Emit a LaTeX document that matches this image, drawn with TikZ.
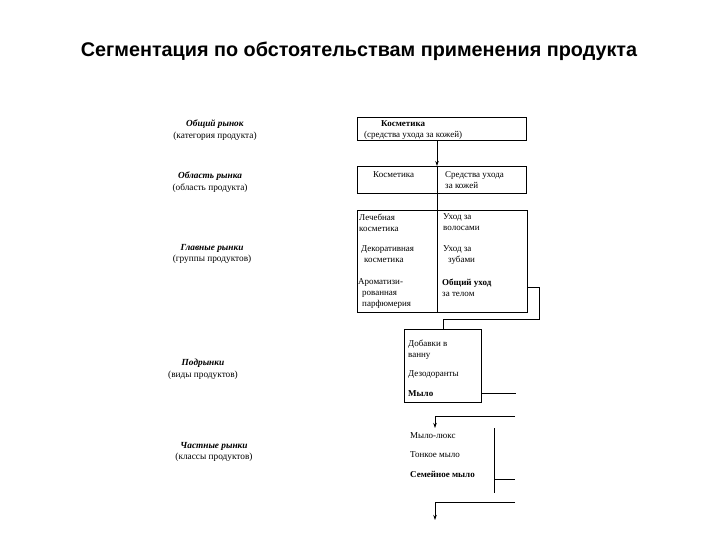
\documentclass[tikz,border=0pt]{standalone}
\usepackage{fontspec}
\setmainfont{Liberation Serif}
\newfontfamily\titlefont{Liberation Sans}
\usetikzlibrary{arrows.meta,positioning}

\begin{document}
\begin{tikzpicture}[x=1pt, y=-1pt,
    frame/.style={rectangle, draw, line width=0.8pt, anchor=north west, inner sep=0pt}, % рамки
    item/.style={anchor=north west, inner sep=0pt, align=left, font=\fontsize{9}{11}\selectfont}, % текст в рамках
    level/.style={anchor=north, inner sep=0pt, align=center, font=\fontsize{9.3}{11.5}\selectfont}, % уровни слева
    link/.style={line width=0.8pt},
    arrow/.style={line width=0.8pt, -{Stealth[length=5pt, width=3.5pt]}}
  ]
  \useasboundingbox (0,0) rectangle (720,540);

  % заголовок
  \node (title) at (359,51) {\titlefont\bfseries\fontsize{19.8}{22}\selectfont Сегментация по обстоятельствам применения продукта};

  % уровни рынка
  \node (lv1) [level] at (215,120) {\textbf{\textit{Общий рынок}}\\(категория продукта)};
  \node (lv2) [level] at (210,172) {\textbf{\textit{Область рынка}}\\(область продукта)};
  \node (lv3) [level] at (212,244) {\textbf{\textit{Главные рынки}}\\(группы продуктов)};
  \node (lv4) [level] at (203,359) {\textbf{\textit{Подрынки}}\\(виды продуктов)};
  \node (lv5) [level] at (214,442) {\textbf{\textit{Частные рынки}}\\(классы продуктов)};

  % рамки
  \node (b1) [frame, minimum width=169pt, minimum height=23pt] at (357,117) {};
  \node (b2) [frame, minimum width=169pt, minimum height=27pt] at (357,166) {};
  \node (b3) [frame, minimum width=170pt, minimum height=102pt] at (357,210) {};
  \node (b4) [frame, minimum width=77pt, minimum height=73pt] at (404,329) {};
  \coordinate (col) at (437,0);

  % текст в рамках
  \node (cosm) [item] at (364,120) {\hspace*{17pt}\textbf{Косметика}\\(средства ухода за кожей)};
  \node (cosm2) [item] at (373,171.5) {Косметика};
  \node (skin) [item] at (445,171.5) {Средства ухода\\за кожей};

  \node (med) [item] at (359,213.5) {Лечебная\\косметика};
  \node (deco) [item] at (361,245.5) {Декоративная\\\hspace*{3pt}косметика};
  \node (arom) [item] at (358,278.5) {Ароматизи-\\\hspace*{4pt}рованная\\\hspace*{4pt}парфюмерия};
  \node (hair) [item] at (443,213.5) {Уход за\\волосами};
  \node (teeth) [item] at (443,245.5) {Уход за\\\hspace*{5pt}зубами};
  \node (care) [item] at (442,278.5) {\textbf{Общий уход}\\за телом};

  \node (bath) [item] at (408,340) {Добавки в\\ванну};
  \node (deod) [item] at (408,370) {Дезодоранты};
  \node (soap) [item] at (408,390) {\textbf{Мыло}};

  \node (lux) [item] at (410,432) {Мыло-люкс};
  \node (fine) [item] at (410,451) {Тонкое мыло};
  \node (family) [item] at (410,471) {\textbf{Семейное мыло}};

  % разделители
  \draw[link] (b2.north -| col) -- (b2.south -| col);
  \draw[link] (b3.north -| col) -- (b3.south -| col);

  % связи
  \draw[arrow] (b1.south -| col) -- (b2.north -| col);
  \draw[link] (b2.south -| col) -- (b3.north -| col);
  \coordinate (turn3) at (539,319);
  \draw[link] (b3.east |- care) -| (turn3) -| (b4.north);
  \draw[link] (b4.east |- soap) -- ++(34,0);
  \coordinate (turn4) at (515,416);
  \coordinate (in5) at (435,428);
  \draw[arrow] (turn4) -| (in5);
  \coordinate (top5) at (494,428);
  \coordinate (bot5) at (494,493);
  \draw[link] (top5) -- (bot5);
  \draw[link] (494,479) -- ++(21,0);
  \coordinate (turn5) at (515,502);
  \coordinate (out5) at (435,520);
  \draw[arrow] (turn5) -| (out5);

\end{tikzpicture}
\end{document}
